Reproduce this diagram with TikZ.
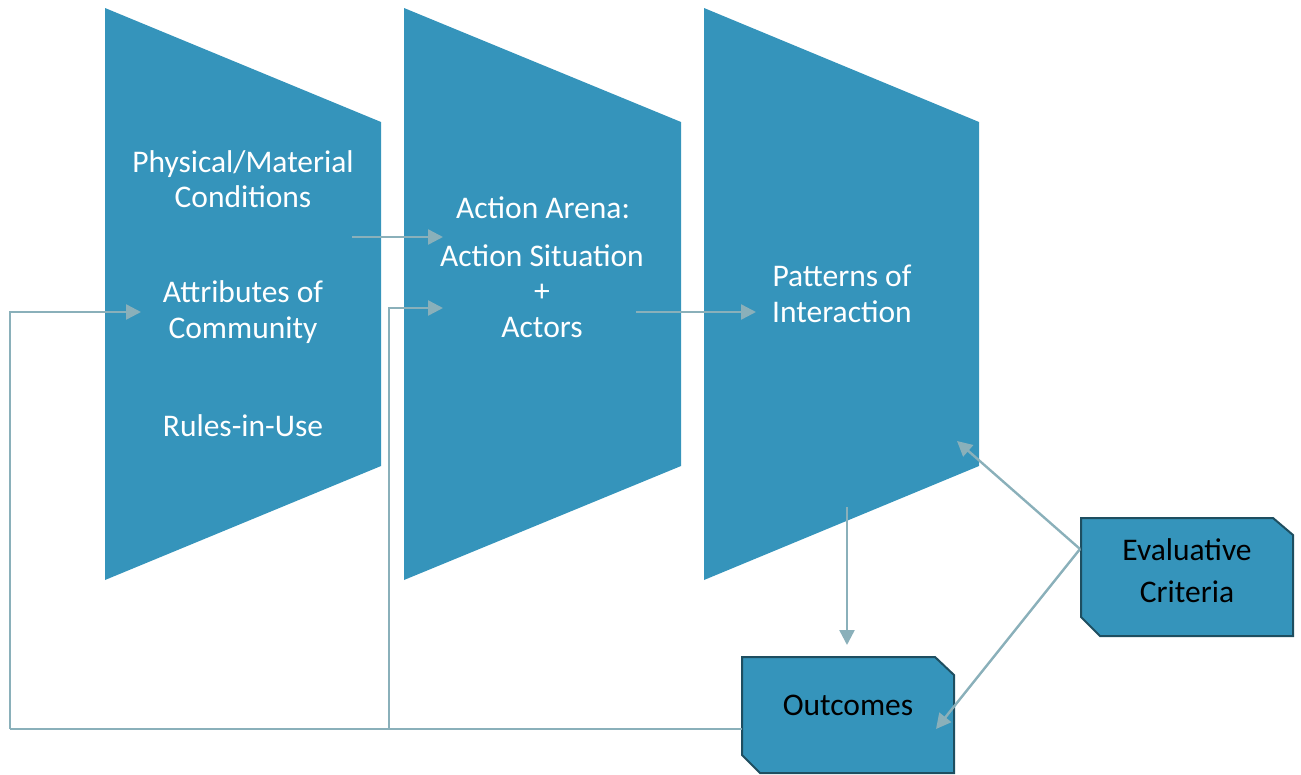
\documentclass[tikz,border=0pt]{standalone}
\usepackage{fontspec}
\setmainfont{Carlito}
\usetikzlibrary{arrows.meta}
\definecolor{panel}{RGB}{53,148,187}
\definecolor{edge}{RGB}{30,78,96}
\definecolor{link}{RGB}{138,176,186}
\tikzset{
  panel/.style={fill=panel, draw=none},
  tag/.style={fill=panel, draw=edge, line width=2pt, line join=miter},
  wtxt/.style={text=white, align=center, font=\fontsize{31.5}{35.5}\selectfont, inner sep=0pt},
  btxt/.style={text=black, align=center, font=\fontsize{31.5}{42}\selectfont, inner sep=0pt},
  link/.style={draw=link, line width=2.4pt},
  linkarrow/.style={link, -{Triangle[length=15pt,width=15pt]}},
}
\begin{document}
\begin{tikzpicture}[x=1pt,y=-1pt]
\useasboundingbox (0,0) rectangle (1301,774);

% three funnel-shaped stages
\fill[panel] (105,8) -- (381,122) -- (381,466) -- (105,580) -- cycle;
\fill[panel] (404,8) -- (681,122) -- (681,466) -- (404,580) -- cycle;
\fill[panel] (704,8) -- (979,122) -- (979,466) -- (704,580) -- cycle;

% chamfered boxes
\draw[tag] (1081,518) -- (1273,518) -- (1293,535) -- (1293,636) -- (1100,636) -- (1081,617) -- cycle;
\draw[tag] (742,657) -- (935,657) -- (954,675) -- (954,773) -- (760,773) -- (742,755) -- cycle;

% stage texts
\node[wtxt] (phys) at (243,179) {Physical/Material\\Conditions};
\node[wtxt] (attr) at (243,312) {Attributes of\\Community};
\node[wtxt] (rules) at (243,426) {Rules-in-Use};
\node[wtxt] (arena) at (543,208) {Action Arena:};
\node[wtxt] (situ) at (542,291) {Action Situation\\+\\Actors};
\node[wtxt] (patt) at (842,294) {Patterns of\\Interaction};
\node[btxt] (eval) at (1187,571) {Evaluative\\Criteria};
\node[btxt] (outc) at (848,705) {Outcomes};

% connector end points
\coordinate (physR) at (352,237);
\coordinate (arenaL) at (443,237);
\coordinate (situR) at (636,312);
\coordinate (pattL) at (756,312);
\coordinate (pattB) at (847,507);
\coordinate (outcT) at (847,645);
\coordinate (outcL) at (742,729);
\coordinate (evalL) at (1080,549);
\coordinate (pattC) at (957,441);
\coordinate (outcR) at (936,729);
\coordinate (loopA) at (10,729);
\coordinate (attrL) at (141,312);
\coordinate (loopB) at (389,729);
\coordinate (situL) at (443,308);

% flows
\draw[linkarrow] (physR) -- (arenaL);
\draw[linkarrow] (situR) -- (pattL);
\draw[linkarrow] (pattB) -- (outcT);
\draw[linkarrow] (evalL) -- (pattC);
\draw[linkarrow] (evalL) -- (outcR);

% feedback from outcomes
\draw[link] (outcL) -- (loopA);
\draw[linkarrow] (loopA) |- (attrL);
\draw[linkarrow] (loopB) |- (situL);
\end{tikzpicture}
\end{document}
